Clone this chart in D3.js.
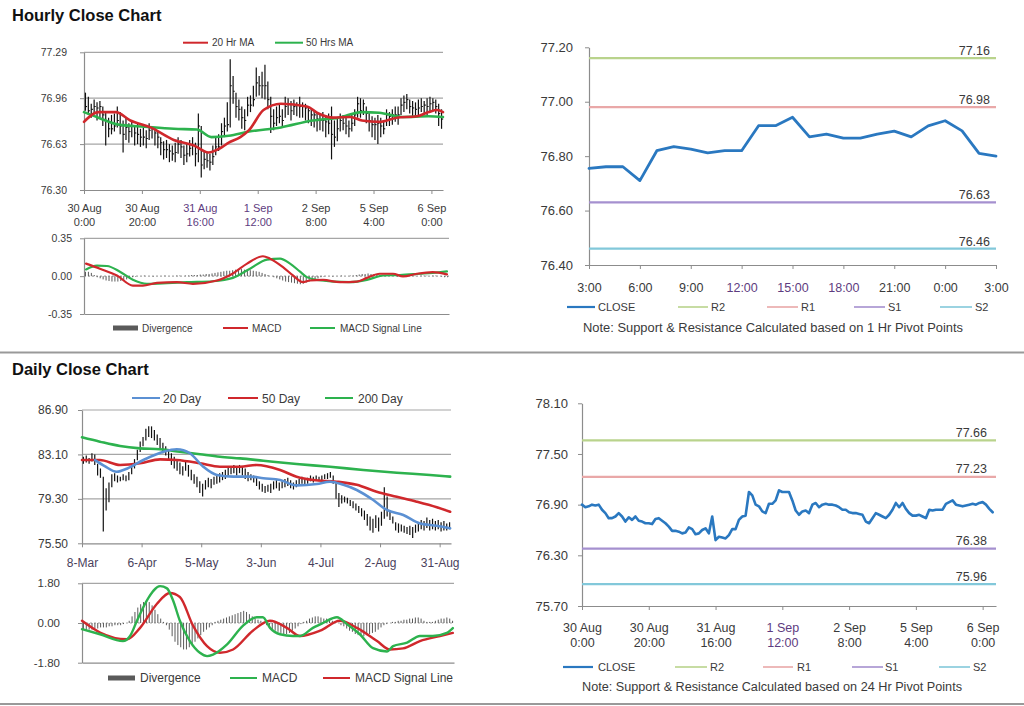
<!DOCTYPE html>
<html><head><meta charset="utf-8">
<script src="https://cdn.jsdelivr.net/npm/d3@7"></script>
<style>body{margin:0;background:#fff}svg{display:block}</style>
</head><body>
<svg id="c" width="1024" height="706"></svg>
<script>
// ---------------- DATA ----------------
// Hourly bars (30 Aug 0:00 .. 6 Sep ~3:00), one per hour
const hourlyHigh = [77.00,76.97,76.92,76.95,76.93,76.94,76.90,76.86,76.82,76.84,
 76.85,76.90,76.86,76.80,76.82,76.78,76.80,76.76,76.78,76.74,
 76.75,76.73,76.78,76.76,76.75,76.72,76.68,76.65,76.66,76.63,
 76.62,76.64,76.68,76.66,76.62,76.63,76.66,76.68,76.64,76.85,
 76.76,76.58,76.57,76.56,76.62,76.68,76.70,76.78,76.82,76.93,
 77.24,77.12,77.00,76.95,76.90,76.88,76.97,76.98,77.05,77.18,
 77.12,77.15,77.20,77.08,76.97,76.88,76.90,76.92,76.88,76.97,
 76.96,76.94,76.95,76.93,76.97,76.93,76.92,76.90,76.88,76.87,
 76.86,76.85,76.86,76.84,76.85,76.90,76.80,76.82,76.85,76.84,
 76.82,76.80,76.84,76.88,76.97,76.96,76.95,76.90,76.86,76.83,
 76.82,76.84,76.82,76.80,76.88,76.86,76.88,76.90,76.90,76.96,
 76.98,76.99,76.95,76.94,76.93,76.95,76.96,76.94,76.96,76.97,
 76.96,76.95,76.92,76.88];
const hourlyLow = [76.87,76.84,76.82,76.85,76.80,76.82,76.76,76.62,76.68,76.70,
 76.72,76.75,76.70,76.57,76.66,76.64,76.68,76.62,76.63,76.61,
 76.62,76.60,76.66,76.67,76.62,76.60,76.55,76.52,76.53,76.50,
 76.51,76.50,76.56,76.53,76.48,76.50,76.54,76.55,76.47,76.50,
 76.39,76.45,76.46,76.44,76.48,76.55,76.58,76.62,76.68,76.72,
 76.75,76.92,76.82,76.80,76.74,76.73,76.83,76.86,76.90,76.97,
 76.98,76.96,76.95,76.88,76.71,76.73,76.76,76.78,76.75,76.82,
 76.84,76.80,76.84,76.83,76.82,76.82,76.80,76.78,76.76,76.75,
 76.72,76.73,76.72,76.68,76.70,76.52,76.61,76.65,76.72,76.73,
 76.70,76.68,76.72,76.76,76.82,76.82,76.84,76.78,76.72,76.68,
 76.66,76.63,76.68,76.70,76.76,76.76,76.77,76.79,76.77,76.84,
 76.86,76.88,76.85,76.83,76.82,76.84,76.86,76.84,76.84,76.86,
 76.87,76.85,76.76,76.74];
const hourlyClose = [76.90,76.87,76.88,76.90,76.89,76.90,76.84,76.80,76.74,76.74,
 76.76,76.80,76.76,76.70,76.75,76.72,76.76,76.71,76.70,76.68,
 76.68,76.67,76.73,76.74,76.71,76.68,76.64,76.59,76.59,76.58,
 76.56,76.57,76.63,76.61,76.55,76.56,76.60,76.62,76.56,76.76,
 76.48,76.52,76.51,76.50,76.54,76.61,76.61,76.72,76.76,76.77,
 77.05,77.01,76.90,76.88,76.82,76.80,76.91,76.91,76.95,77.07,
 77.05,77.05,77.05,76.95,76.83,76.78,76.82,76.83,76.80,76.90,
 76.92,76.87,76.90,76.91,76.90,76.90,76.89,76.87,76.84,76.84,
 76.81,76.80,76.80,76.79,76.78,76.70,76.68,76.74,76.80,76.78,
 76.76,76.74,76.78,76.84,76.92,76.87,76.92,76.85,76.80,76.77,
 76.77,76.78,76.76,76.74,76.84,76.83,76.84,76.84,76.84,76.91,
 76.93,76.95,76.90,76.89,76.88,76.89,76.90,76.91,76.90,76.92,
 76.93,76.90,76.85,76.81];
// moving averages [hour index, value]
const ma20Hr = [[0,76.79],[5,76.86],[11,76.86],[16,76.80],[23,76.75],[31,76.66],[38,76.62],[43,76.57],[47,76.60],[50,76.64],[54,76.68],[57,76.73],[62,76.875],[68,76.92],[77,76.90],[81,76.85],[86,76.82],[92,76.825],[96,76.80],[102,76.79],[108,76.82],[115,76.83],[119,76.86],[122,76.875],[124,76.86]];
const ma50Hr = [[0,76.86],[5,76.82],[12,76.77],[21,76.755],[31,76.74],[39,76.735],[44,76.68],[50,76.69],[57,76.72],[68,76.75],[79,76.80],[88,76.82],[96,76.86],[102,76.855],[110,76.825],[119,76.83],[124,76.825]];
const hourTicks = [0,20,40,60,80,100,120];
const hourTickDay = ["30 Aug","30 Aug","31 Aug","1 Sep","2 Sep","5 Sep","6 Sep"];
const hourTickTime = ["0:00","20:00","16:00","12:00","8:00","4:00","0:00"];
const hourlyPriceTicks = [76.30,76.63,76.96,77.29];

// hourly MACD
const macdHr = [[0.7,0.116],[5.4,0.069],[11.2,0.006],[16.6,-0.087],[20,-0.087],[24.8,-0.062],[31.6,-0.056],[37,-0.071],[45.2,-0.04],[50.6,0.025],[55.4,0.116],[60.8,0.184],[63.2,0.162],[67.6,0.084],[71,0.006],[74.4,-0.056],[76.8,-0.04],[81.2,-0.035],[87,-0.056],[92.7,-0.05],[96.1,-0.016],[100.5,0.022],[105,0.022],[108.4,-0.003],[113.1,0.022],[118.5,0.037],[123.3,0.016]];
const signalHr = [[0.7,0.062],[4.4,0.097],[7.8,0.094],[12.2,0.041],[16.6,-0.034],[21.4,-0.071],[28.2,-0.065],[35,-0.056],[43.8,-0.047],[50.6,-0.016],[56.4,0.069],[62.2,0.153],[66.6,0.162],[70,0.116],[73.4,0.041],[75.7,-0.009],[79.1,-0.034],[90.4,-0.056],[96.1,-0.035],[101.6,0.006],[107.3,0.01],[114.1,0.022],[118.5,0.03],[123.3,0.044]];
const divergenceHr = [0.04,0.04,0.03,
 0.01,-0.01,-0.02,-0.03,-0.04,-0.045,-0.05,-0.05,-0.05,-0.045,-0.04,-0.03,-0.02,
 -0.01,-0.005,0,0,0.005,0,0,-0.005,0,0,0,0.005,0,0,0,0.005,0.005,0,0.005,0.005,0.01,0.01,0.01,0.015,0.015,
 0.02,0.02,0.025,0.03,0.035,0.04,0.045,0.05,0.05,
 0.055,0.06,0.06,0.065,0.06,0.06,0.055,0.05,0.045,0.04,0.03,
 0.02,0.01,0,
 -0.01,-0.02,-0.03,-0.04,-0.05,-0.055,-0.06,-0.065,-0.07,-0.075,-0.07,-0.06,
 -0.05,-0.04,-0.03,-0.02,-0.01,-0.005,
 0,0,-0.005,0,0,0.005,0,0,0.005,0.005,0.01,0.015,0.02,
 0.02,0.025,0.02,0.02,0.015,0.01,0.01,
 0.005,0,0.005,0,-0.005,0,0.005,0.005,0,0.005,0.005,0,0.005,0.005,0.005,0,0.005,0.005,0,-0.005,-0.01,-0.01];
const macdHrTicks = [-0.35,0,0.35];

// 1-hour pivot chart
const pivotHourClose = [76.755,76.761,76.761,76.710,76.820,76.835,76.826,76.812,76.820,76.820,76.912,76.912,76.943,76.871,76.881,76.866,76.866,76.881,76.892,76.871,76.911,76.930,76.893,76.810,76.800];
const pivotHourTicks = [0,3,6,9,12,15,18,21,24];
const pivotHourLabels = ["3:00","6:00","9:00","12:00","15:00","18:00","21:00","0:00","3:00"];
const pivotHourY = [76.40,76.60,76.80,77.00,77.20];
const pivotNames = ["R2","R1","S1","S2"];
const pivotHourLevels = [77.16,76.98,76.63,76.46];

// Daily bars (8-Mar .. 6-Sep, trading days)
const dailyHigh = [82.9,83.0,82.8,83.2,83.1,82.3,81.9,81.2,80.2,80.7,
 81.4,81.5,81.3,81.2,81.4,81.3,81.6,82.3,82.7,83.5,
 84.2,84.6,85.3,85.5,85.5,85.2,84.8,84.5,84.1,83.8,
 83.5,83.2,82.9,82.6,82.4,82.1,82.6,82.2,81.8,81.4,
 81.2,80.8,80.6,80.9,81.1,81.0,81.2,81.4,81.5,81.6,
 81.8,82.0,82.1,82.2,82.0,82.2,82.1,81.9,81.6,81.4,
 81.3,81.1,80.8,80.6,80.4,80.5,80.6,80.8,80.9,80.7,
 80.8,81.0,81.1,80.9,80.7,80.9,81.0,81.2,81.0,81.1,
 81.3,81.2,81.3,81.2,81.3,81.4,81.5,81.6,81.3,80.7,
 79.8,79.6,79.5,79.4,79.2,79.1,78.9,78.7,78.5,78.3,
 78.0,77.8,77.6,77.9,77.7,78.2,80.3,79.5,78.2,77.8,
 77.3,77.2,77.1,77.0,76.9,77.0,76.9,77.1,77.3,77.5,
 77.4,77.7,77.5,77.6,77.4,77.5,77.3,77.4,77.2,77.3];
const dailyLow = [82.3,82.4,82.3,82.5,82.2,81.3,81.1,76.5,78.3,79.0,
 80.3,80.8,80.7,80.8,80.9,80.8,80.9,81.4,81.9,82.6,
 83.3,83.8,84.3,84.6,84.5,84.3,83.9,83.6,83.2,83.0,
 82.6,82.2,81.9,81.7,81.4,81.3,81.7,81.2,80.9,80.6,
 80.3,79.8,79.5,80.1,80.3,80.2,80.5,80.6,80.7,80.9,
 81.0,81.2,81.4,81.5,81.3,81.5,81.3,81.0,80.8,80.9,
 80.7,80.4,80.1,79.9,79.8,79.9,79.8,80.1,80.2,80.0,
 80.2,80.3,80.4,80.2,80.1,80.3,80.4,80.6,80.5,80.6,
 80.8,80.7,80.9,80.8,80.9,81.0,81.0,81.1,80.6,79.3,
 78.6,78.9,79.0,78.9,78.7,78.5,78.3,78.1,77.8,77.5,
 77.0,76.6,76.4,76.8,76.5,77.0,77.6,77.8,77.5,77.2,
 76.6,76.4,76.5,76.4,76.3,76.2,75.95,76.4,76.5,76.7,
 76.6,76.8,76.6,76.7,76.6,76.7,76.5,76.6,76.6,76.7];
const ma20Day = [[4.6,82.62],[8,82.1],[12.2,81.62],[16,81.9],[21.6,82.62],[28.7,83.33],[33.4,83.54],[38,83.2],[42.7,82.05],[47.5,81.34],[53.3,81.2],[59.2,81.2],[63.9,81.06],[69.8,80.91],[75.6,80.45],[82.7,80.57],[87.4,80.77],[92.1,80.5],[96.8,80.06],[102.6,79.2],[107.4,78.35],[113.2,77.92],[119.1,77.2],[125,77.0],[129.7,76.78]];
const ma50Day = [[0,82.62],[6.3,82.62],[13.4,82.2],[20.4,82.34],[27.5,82.68],[33.4,82.62],[41.6,82.34],[48.6,82.05],[55.7,82.05],[61.5,82.2],[69.8,81.77],[75.6,81.2],[81.5,80.91],[89.7,80.77],[96.8,80.5],[103.8,79.91],[110.9,79.48],[117.9,79.06],[125,78.58],[129.7,78.2]];
const ma200Day = [[0,84.56],[6.3,84.19],[13.4,83.82],[20.4,83.62],[27.5,83.54],[34.5,83.33],[41.6,83.11],[48.6,82.9],[55.7,82.76],[63.9,82.56],[75.6,82.28],[87.4,82.05],[99.1,81.77],[110.9,81.54],[122.6,81.34],[129.7,81.2]];
const dayTicks = [0,21,42,63,84,105,126];
const dayTickLabels = ["8-Mar","6-Apr","5-May","3-Jun","4-Jul","2-Aug","31-Aug"];
const dailyPriceTicks = [75.50,79.30,83.10,86.90];

// daily MACD
const macdDay = [[0,-0.28],[6.3,-0.51],[14.3,-0.82],[16.8,-0.59],[19.2,0.1],[22.7,1.03],[27.3,1.67],[29.7,1.57],[31.8,1.03],[34.2,0.1],[37.7,-0.82],[41.2,-1.35],[43.7,-1.5],[45.8,-1.43],[50.7,-0.97],[56.3,-0.12],[61.1,0.26],[63.2,0.26],[65.7,-0.22],[69.2,-0.51],[73.7,-0.59],[76.2,-0.59],[80.7,-0.22],[84.2,0],[89.1,0.26],[92.6,-0.05],[97.1,-0.51],[101.7,-1.14],[106.6,-1.29],[108.7,-1.05],[113.6,-0.89],[118.1,-0.59],[122.6,-0.59],[127.5,-0.45],[129.6,-0.23]];
const signalDay = [[0,0.1],[6.3,-0.43],[15.7,-0.74],[20.3,-0.22],[26.2,0.87],[30.7,1.36],[34.2,1.18],[38.8,-0.12],[43.7,-1.05],[48.2,-1.35],[52.8,-1.2],[59.7,-0.35],[65.7,0.1],[71.6,-0.22],[76.2,-0.59],[83.2,-0.35],[90.1,0.1],[96.1,-0.22],[103.1,-0.82],[107.6,-1.2],[112.2,-1.15],[118.1,-0.82],[125.1,-0.59],[129.6,-0.45]];
const divergenceDay = [-0.3,-0.35,-0.3,-0.3,-0.25,-0.25,-0.2,-0.2,-0.2,-0.15,-0.15,-0.1,-0.1,-0.1,-0.05,0,
 0.1,0.3,0.5,0.7,0.85,0.95,1.0,0.95,0.8,0.6,0.4,0.2,0.05,
 -0.1,-0.3,-0.6,-0.85,-1.0,-1.1,-1.2,-1.2,-1.1,-1.0,-0.85,-0.7,-0.55,-0.4,-0.3,-0.2,-0.1,
 0.05,0.1,0.15,0.2,0.25,0.3,0.35,0.4,0.45,0.5,0.55,0.5,0.4,0.3,0.2,0.15,0.1,
 -0.05,-0.1,-0.2,-0.3,-0.35,-0.4,-0.45,-0.5,-0.5,-0.45,-0.35,-0.25,-0.15,-0.05,
 0.05,0.1,0.2,0.25,0.3,0.3,0.25,0.2,0.2,0.15,0.1,0.05,0,
 -0.1,-0.15,-0.25,-0.35,-0.4,-0.5,-0.55,-0.6,-0.6,-0.55,-0.5,-0.45,-0.4,-0.3,-0.2,-0.1,-0.05,
 0,0.05,0.05,0.1,0.1,0.15,0.15,0.2,0.2,0.25,0.25,0.2,0.1,0.05,0.05,0.05,0.1,0.15,0.2,0.2,0.25,0.2,0.1];
const macdDayTicks = [-1.80,0,1.80];

// 24-hour pivot chart (uses hourlyClose)
const pivotDayY = [75.70,76.30,76.90,77.50,78.10];
const pivotDayLevels = [77.66,77.23,76.38,75.96];

// ---------------- DRAWING ----------------
const F = "'Liberation Sans', Arial, Helvetica, sans-serif";
const svg = d3.select("#c").attr("font-family", F);
svg.append("rect").attr("width",1024).attr("height",706).attr("fill","#fff");
const fmt2 = d => d.toFixed(2);

const C = {
  grid:"#a6a6a6", axis:"#8c8c8c", text:"#3a3a3a", purple:"#5e3c80",
  red:"#d0282c", green:"#2db24e", blue20:"#5b90d3", close:"#2a78c0",
  div:"#5a5a5a", pivot:["#b9d38c","#e9a8a8","#a590cf","#82c8da"]
};

function txt(x,y,s,size,opts={}){
  const t = svg.append("text").attr("x",x).attr("y",y).text(s)
    .attr("font-size",size).attr("fill",opts.fill||C.text)
    .attr("text-anchor",opts.anchor||"start");
  if(opts.weight) t.attr("font-weight",opts.weight);
  if(opts.len) t.attr("textLength",opts.len).attr("lengthAdjust","spacingAndGlyphs");
  return t;
}
function styleAxis(g,size){
  g.attr("font-family",F).attr("font-size",size);
  g.select(".domain").attr("stroke",C.axis).attr("stroke-width",1.2);
  g.selectAll(".tick line").attr("stroke",C.axis);
  g.selectAll(".tick text").attr("fill",C.text);
}
function grid(vals,x1,x2,y,dash){
  const g = svg.append("g");
  g.selectAll("line").data(vals).join("line")
    .attr("x1",x1).attr("x2",x2).attr("y1",d=>y(d)).attr("y2",d=>y(d))
    .attr("stroke",C.grid).attr("stroke-width",1.2)
    .attr("stroke-dasharray",dash||null);
}
function legLine(x1,x2,y,color,w){
  svg.append("line").attr("x1",x1).attr("x2",x2).attr("y1",y).attr("y2",y)
    .attr("stroke",color).attr("stroke-width",w||2);
}
function twoLine(g,days,times,dy2,purpleIdx){
  g.selectAll(".tick text").each(function(d,i){
    const t=d3.select(this); t.text(null);
    const col = purpleIdx.includes(i) ? C.purple : C.text;
    t.append("tspan").attr("x",0).attr("fill",col).text(days[i]);
    t.append("tspan").attr("x",0).attr("dy",dy2).attr("fill",col).text(times[i]);
  });
}
function pathLine(data,x,y,color,w,curve){
  svg.append("path").datum(data)
    .attr("d",d3.line().x(d=>x(d[0])).y(d=>y(d[1])).curve(curve||d3.curveMonotoneX))
    .attr("fill","none").attr("stroke",color).attr("stroke-width",w)
    .attr("stroke-linejoin","round").attr("stroke-linecap","round");
}

// titles & separators
txt(12,21,"Hourly Close Chart",16.5,{weight:"bold",fill:"#111"});
txt(12,375,"Daily Close Chart",16.5,{weight:"bold",fill:"#111"});
svg.append("line").attr("x1",0).attr("x2",1024).attr("y1",352.5).attr("y2",352.5).attr("stroke","#999").attr("stroke-width",2);
svg.append("line").attr("x1",0).attr("x2",1024).attr("y1",704).attr("y2",704).attr("stroke","#999").attr("stroke-width",2);

// ===== Hourly price panel =====
{
  const x = d3.scaleLinear().domain([0,124]).range([84,443]);
  const y = d3.scaleLinear().domain([76.30,77.29]).range([190,52.3]);
  grid(hourlyPriceTicks.slice(1),84,443,y);
  const ga = svg.append("g").attr("transform","translate(84,0)")
    .call(d3.axisLeft(y).tickValues(hourlyPriceTicks).tickFormat(fmt2).tickSize(4).tickPadding(13).tickSizeOuter(0));
  styleAxis(ga,10.5);
  const gb = svg.append("g").attr("transform","translate(0,190)")
    .call(d3.axisBottom(x).tickValues(hourTicks).tickSize(4).tickPadding(10).tickSizeOuter(0));
  styleAxis(gb,11);
  twoLine(gb,hourTickDay,hourTickTime,14,[2,3]);
  const bars = svg.append("g");
  bars.selectAll("line.b").data(hourlyHigh).join("line").attr("class","b")
    .attr("x1",(d,i)=>x(i+0.5)).attr("x2",(d,i)=>x(i+0.5))
    .attr("y1",d=>y(d)).attr("y2",(d,i)=>y(hourlyLow[i]))
    .attr("stroke","#111").attr("stroke-width",1.2);
  bars.selectAll("line.c").data(hourlyClose).join("line").attr("class","c")
    .attr("x1",(d,i)=>x(i+0.5)).attr("x2",(d,i)=>x(i+0.5)+1.6)
    .attr("y1",d=>y(d)).attr("y2",d=>y(d))
    .attr("stroke","#111").attr("stroke-width",1.1);
  pathLine(ma50Hr,x,y,C.green,2.6);
  pathLine(ma20Hr,x,y,C.red,2.6);
  legLine(183,208,42.7,C.red,2);
  txt(212,46.2,"20 Hr MA",10);
  legLine(275,303,42.7,C.green,2);
  txt(306,46.2,"50 Hrs  MA",10);
}

// ===== Hourly MACD panel =====
{
  const x = d3.scaleLinear().domain([0,124]).range([84,449]);
  const y = d3.scaleLinear().domain([-0.35,0.35]).range([314,238.3]);
  grid([0.35],84,449,y);
  grid([0],84,449,y,"2,2");
  const ga = svg.append("g").attr("transform","translate(84,0)")
    .call(d3.axisLeft(y).tickValues(macdHrTicks).tickFormat(fmt2).tickSize(4).tickPadding(8).tickSizeOuter(0));
  styleAxis(ga,10.5);
  svg.append("g").attr("transform","translate(0,314)")
    .call(d3.axisBottom(x).tickValues([]).tickSizeOuter(0)).call(g=>styleAxis(g,10));
  svg.append("g").selectAll("line").data(divergenceHr).join("line")
    .attr("x1",(d,i)=>x(i+0.5)).attr("x2",(d,i)=>x(i+0.5))
    .attr("y1",y(0)).attr("y2",d=>y(d)).attr("stroke",C.div).attr("stroke-width",1);
  pathLine(signalHr,x,y,C.green,2.2);
  pathLine(macdHr,x,y,C.red,2.2);
  svg.append("rect").attr("x",113).attr("y",325.5).attr("width",25).attr("height",5).attr("fill",C.div);
  txt(142,331.5,"Divergence",10);
  legLine(223,248,328,C.red,2);
  txt(252,331.5,"MACD",10);
  legLine(310,335,328,C.green,2);
  txt(340,331.5,"MACD  Signal Line",10);
}

// ===== Hourly pivot panel =====
{
  const x = d3.scaleLinear().domain([0,24]).range([589,996]);
  const y = d3.scaleLinear().domain([76.40,77.20]).range([265,47.3]);
  const ga = svg.append("g").attr("transform","translate(589,0)")
    .call(d3.axisLeft(y).tickValues(pivotHourY).tickFormat(fmt2).tickSize(4).tickPadding(12).tickSizeOuter(0));
  styleAxis(ga,13);
  const gb = svg.append("g").attr("transform","translate(0,265)")
    .call(d3.axisBottom(x).tickValues(pivotHourTicks).tickFormat((d,i)=>pivotHourLabels[i]).tickSize(4).tickPadding(14).tickSizeOuter(0));
  styleAxis(gb,12.5);
  gb.selectAll(".tick text").attr("fill",(d,i)=> (i>=3 && i<=5) ? C.purple : C.text);
  pivotHourLevels.forEach((v,i)=>{
    svg.append("line").attr("x1",589).attr("x2",996).attr("y1",y(v)).attr("y2",y(v))
      .attr("stroke",C.pivot[i]).attr("stroke-width",2.2);
    txt(990,y(v)-3,fmt2(v),12.5,{anchor:"end"});
  });
  pathLine(pivotHourClose.map((v,i)=>[i,v]),x,y,C.close,2.8,d3.curveLinear);
  const lx = [[567,595,598],[678,708,711],[767,798,801],[854,885,888],[940,972,975]];
  const names = ["CLOSE"].concat(pivotNames);
  const cols = [C.close].concat(C.pivot);
  names.forEach((n,i)=>{ legLine(lx[i][0],lx[i][1],307,cols[i],i===0?2.2:1.6); txt(lx[i][2],311,n,11); });
  txt(583,332,"Note: Support & Resistance Calculated based on 1 Hr Pivot Points",12.5,{len:380});
}

// ===== Daily price panel =====
{
  const x = d3.scaleLinear().domain([0,130]).range([82,451]);
  const y = d3.scaleLinear().domain([75.5,86.9]).range([543.3,410]);
  grid(dailyPriceTicks.slice(1),82,451,y);
  const ga = svg.append("g").attr("transform","translate(82,0)")
    .call(d3.axisLeft(y).tickValues(dailyPriceTicks).tickFormat(fmt2).tickSize(4).tickPadding(10).tickSizeOuter(0));
  styleAxis(ga,12);
  const gb = svg.append("g").attr("transform","translate(0,543.3)")
    .call(d3.axisBottom(x).tickValues(dayTicks).tickFormat((d,i)=>dayTickLabels[i]).tickSize(4).tickPadding(11).tickSizeOuter(0));
  styleAxis(gb,12);
  gb.selectAll(".tick text").attr("fill","#4a3f5c");
  svg.append("g").selectAll("line").data(dailyHigh).join("line")
    .attr("x1",(d,i)=>x(i+0.5)).attr("x2",(d,i)=>x(i+0.5))
    .attr("y1",d=>y(d)).attr("y2",(d,i)=>y(dailyLow[i]))
    .attr("stroke","#111").attr("stroke-width",1.2);
  pathLine(ma200Day,x,y,C.green,2.6);
  pathLine(ma50Day,x,y,C.red,2.6);
  pathLine(ma20Day,x,y,C.blue20,2.6);
  legLine(132,160,398,C.blue20,2);
  txt(163,402.5,"20 Day",12);
  legLine(228,258,398,C.red,2);
  txt(262,402.5,"50 Day",12);
  legLine(325,353,398,C.green,2);
  txt(358,402.5,"200 Day",12);
}

// ===== Daily MACD panel =====
{
  const x = d3.scaleLinear().domain([0,130]).range([82,454]);
  const y = d3.scaleLinear().domain([-1.8,1.8]).range([662.7,583.3]);
  grid([1.8],82,454,y);
  grid([0],82,454,y,"2,2");
  const ga = svg.append("g").attr("transform","translate(82,0)")
    .call(d3.axisLeft(y).tickValues(macdDayTicks).tickFormat(fmt2).tickSize(4).tickPadding(18).tickSizeOuter(0));
  styleAxis(ga,11.5);
  svg.append("g").attr("transform","translate(0,662.7)")
    .call(d3.axisBottom(x).tickValues([]).tickSizeOuter(0)).call(g=>styleAxis(g,10));
  svg.append("g").selectAll("line").data(divergenceDay).join("line")
    .attr("x1",(d,i)=>x(i+0.5)).attr("x2",(d,i)=>x(i+0.5))
    .attr("y1",y(0)).attr("y2",d=>y(d)).attr("stroke",C.div).attr("stroke-width",1);
  pathLine(signalDay,x,y,C.red,2.4);
  pathLine(macdDay,x,y,C.green,2.4);
  svg.append("rect").attr("x",108).attr("y",675.5).attr("width",27).attr("height",5).attr("fill",C.div);
  txt(140,682,"Divergence",12);
  legLine(230,257,678,C.green,2);
  txt(262,682,"MACD",12);
  legLine(323,350,678,C.red,2);
  txt(355,682,"MACD  Signal Line",12);
}

// ===== Daily (24hr) pivot panel =====
{
  const x = d3.scaleLinear().domain([0,124]).range([582,996]);
  const y = d3.scaleLinear().domain([75.70,78.10]).range([606,403.3]);
  const ga = svg.append("g").attr("transform","translate(582,0)")
    .call(d3.axisLeft(y).tickValues(pivotDayY).tickFormat(fmt2).tickSize(4).tickPadding(10).tickSizeOuter(0));
  styleAxis(ga,13);
  const gb = svg.append("g").attr("transform","translate(0,606)")
    .call(d3.axisBottom(x).tickValues(hourTicks).tickSize(4).tickPadding(13).tickSizeOuter(0));
  styleAxis(gb,12.5);
  twoLine(gb,hourTickDay,hourTickTime,15,[3]);
  pivotDayLevels.forEach((v,i)=>{
    svg.append("line").attr("x1",582).attr("x2",996).attr("y1",y(v)).attr("y2",y(v))
      .attr("stroke",C.pivot[i]).attr("stroke-width",2.2);
    txt(987,y(v)-3.5,fmt2(v),12.5,{anchor:"end"});
  });
  pathLine(hourlyClose.map((v,i)=>[i,v]),x,y,C.close,2.6,d3.curveLinear);
  const lx = [[563,593,598],[675,707,710],[763,793,797],[852,883,885],[939,970,973]];
  const names = ["CLOSE"].concat(pivotNames);
  const cols = [C.close].concat(C.pivot);
  names.forEach((n,i)=>{ legLine(lx[i][0],lx[i][1],667,cols[i],i===0?2.2:1.6); txt(lx[i][2],671,n,11); });
  txt(582,691,"Note: Support & Resistance Calculated based on 24 Hr Pivot Points",12.5,{len:380});
}
</script>
</body></html>
